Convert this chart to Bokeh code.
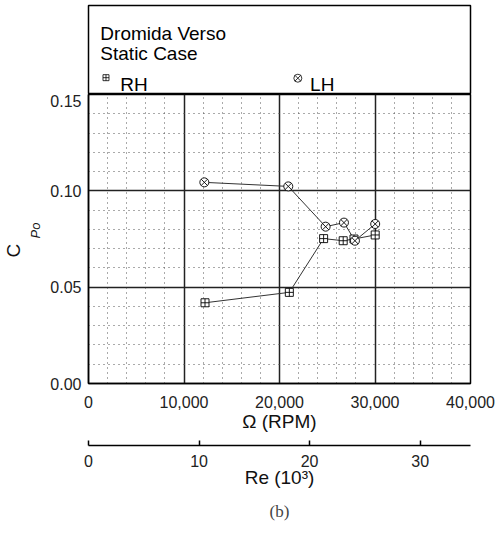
from bokeh.plotting import figure
from bokeh.layouts import column
from bokeh.models import (Range1d, LinearAxis, FixedTicker, NumeralTickFormatter, Title)
from bokeh.core.properties import value
from bokeh.embed import file_html
from bokeh.resources import INLINE

# ---- data ----
rpm_rh = [12200, 21030, 24620, 26670, 27800, 30020]
cp_rh = [0.0419, 0.0473, 0.0752, 0.0741, 0.0750, 0.0771]
rpm_lh = [12130, 20920, 24830, 26750, 27900, 30020]
cp_lh = [0.1044, 0.1023, 0.0814, 0.0835, 0.0741, 0.0828]
x_ticks = [0, 10000, 20000, 30000, 40000]
y_ticks = [0.00, 0.05, 0.10, 0.15]
re_ticks = [0, 10, 20, 30]
title_lines = ["Dromida Verso", "Static Case"]
series_names = ["RH", "LH"]

FONT = "Liberation Sans"
FW = 382
LEFT = 88
RIGHT = 29

x_minor = [i * 2000 for i in range(21)]
y_minor = [round(i * 0.01, 2) for i in range(16)]

# ---- top legend box ----
top = figure(frame_width=FW, frame_height=89, min_border_left=LEFT, min_border_right=RIGHT,
             min_border_top=5, min_border_bottom=0, x_range=Range1d(0, 1), y_range=Range1d(0, 1),
             x_axis_location=None, y_axis_location=None, toolbar_location=None,
             output_backend="svg")
top.grid.visible = False
top.outline_line_color = "black"
top.outline_line_width = 1.5
top.text(x=[0.031, 0.031], y=[0.689, 0.464], text=title_lines, text_font=value(FONT),
         text_font_size="19px", text_color="black", text_baseline="alphabetic")
top.scatter(x=[0.0458], y=[0.189], marker="square_cross", size=6, line_color="black",
            fill_color="white", line_width=0.8)
top.scatter(x=[0.548], y=[0.183], marker="circle_x", size=8, line_color="black",
            fill_color="white", line_width=0.8)
top.text(x=[0.083, 0.58], y=[0.109, 0.109], text=series_names, text_font=value(FONT),
         text_font_size="19px", text_color="black", text_baseline="alphabetic")

# ---- main plot ----
p = figure(frame_width=FW, frame_height=289, min_border_left=LEFT, min_border_right=RIGHT,
           min_border_top=0, x_range=Range1d(0, 40000), y_range=Range1d(0, 0.15),
           toolbar_location=None, output_backend="svg")
p.extra_x_ranges = {"re": Range1d(0, 34.55)}
p.outline_line_color = "black"
p.outline_line_width = 1.5

xt = FixedTicker(ticks=x_ticks, minor_ticks=x_minor)
yt = FixedTicker(ticks=y_ticks, minor_ticks=y_minor)
p.xaxis.ticker = xt
p.yaxis.ticker = yt
p.xgrid.ticker = xt
p.ygrid.ticker = yt
p.xaxis.formatter = NumeralTickFormatter(format="0,0")
p.yaxis.formatter = NumeralTickFormatter(format="0.00")
for ax in (p.xaxis[0], p.yaxis[0]):
    ax.major_tick_in = 0
    ax.major_tick_out = 0
    ax.minor_tick_in = 0
    ax.minor_tick_out = 0
    ax.axis_line_color = "black"
    ax.axis_line_width = 1.5
    ax.major_label_text_font = FONT
    ax.major_label_text_font_size = "16px"
    ax.major_label_text_color = "#222"
    ax.axis_label_text_font = FONT
    ax.axis_label_text_font_size = "19px"
    ax.axis_label_text_font_style = "normal"
    ax.axis_label_text_color = "#111"
p.xaxis.major_label_standoff = 12
p.yaxis.major_label_standoff = 7
p.xaxis.axis_label = "Ω (RPM)"
p.xaxis.axis_label_standoff = 0

for g in (p.xgrid[0], p.ygrid[0]):
    g.grid_line_color = "#222"
    g.grid_line_width = 1.5
    g.minor_grid_line_color = "#555"
    g.minor_grid_line_width = 1
    g.minor_grid_line_dash = "1 4"

# spacer between the two bottom axes (invisible)
spacer = LinearAxis(ticker=FixedTicker(ticks=[20000]), major_tick_out=11, major_tick_in=0,
                    minor_tick_out=0, minor_tick_in=0, axis_line_color=None,
                    major_tick_line_color=None, minor_tick_line_color=None,
                    major_label_standoff=0, major_label_text_font_size="1px",
                    major_label_text_color=None, major_label_overrides={20000: ""})
p.add_layout(spacer, "below")

re_axis = LinearAxis(x_range_name="re", ticker=FixedTicker(ticks=re_ticks),
                     axis_label="Re (10³)")
re_axis.major_tick_in = 5
re_axis.major_tick_out = 0
re_axis.minor_tick_in = 0
re_axis.minor_tick_out = 0
re_axis.axis_line_width = 1.5
re_axis.major_tick_line_width = 1.5
re_axis.major_label_standoff = 9
re_axis.major_label_text_font = FONT
re_axis.major_label_text_font_size = "16px"
re_axis.major_label_text_color = "#222"
re_axis.axis_label_text_font = FONT
re_axis.axis_label_text_font_size = "19px"
re_axis.axis_label_text_font_style = "normal"
re_axis.axis_label_text_color = "#111"
re_axis.axis_label_standoff = -3
p.add_layout(re_axis, "below")

p.add_layout(Title(text="(b)", align="center", text_font="Liberation Serif",
                   text_font_size="17px", text_font_style="normal", standoff=18), "below")

# y axis label C_Po as stacked left titles
p.add_layout(Title(text="Po", align="left", offset=145, text_font=FONT, text_font_size="13px",
                   text_font_style="italic", text_color="#111", standoff=10), "left")
p.add_layout(Title(text="C", align="left", offset=126, text_font=FONT, text_font_size="19px",
                   text_font_style="normal", text_color="#111", standoff=-6), "left")

p.line(rpm_rh, cp_rh, line_color="#333", line_width=1)
p.line(rpm_lh, cp_lh, line_color="#333", line_width=1)
p.scatter(rpm_rh, cp_rh, marker="square_cross", size=8, line_color="black",
          fill_color="white", line_width=0.9)
p.scatter(rpm_lh, cp_lh, marker="circle_x", size=9, line_color="black",
          fill_color="white", line_width=0.9)

layout = column(top, p, spacing=0)
open("out.html", "w").write(file_html(layout, INLINE))
